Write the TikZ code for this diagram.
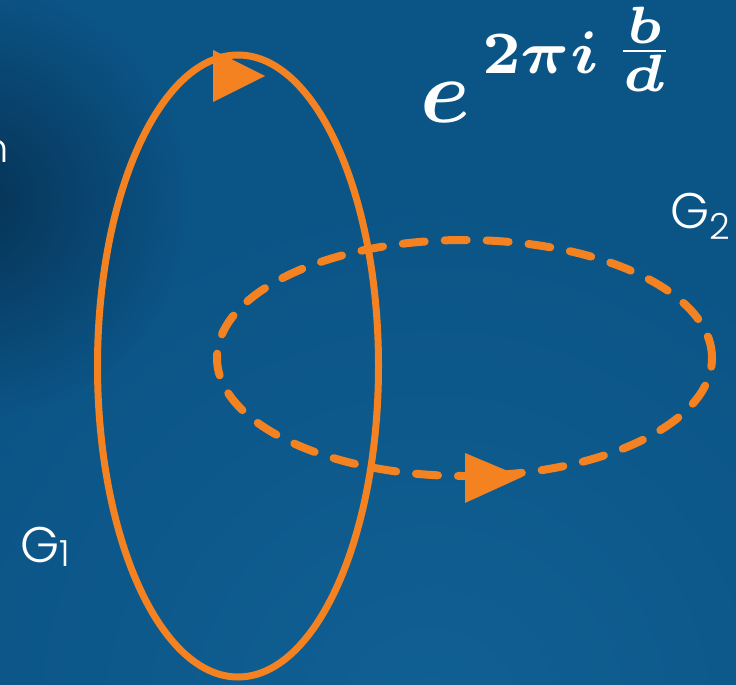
\documentclass[tikz,border=0pt]{standalone}
\usepackage{amsmath}
\usepackage{graphicx}
\usepackage{fontspec}
\newfontfamily\gfont{Poppins}[UprightFont={* Light}]
\definecolor{bg}{RGB}{11,84,134}
\definecolor{bgdark}{RGB}{6,50,84}
\definecolor{bglight}{RGB}{17,96,148}
\definecolor{loop}{RGB}{245,130,32}
\newsavebox{\expobox}
\newsavebox{\goneb}
\newsavebox{\gtwob}
\newsavebox{\cutb}
\tikzset{
  loopline/.style={draw=loop, line width=7pt},
  dashloop/.style={draw=loop, line width=8pt, line cap=round, dash pattern=on 22pt off 20pt},
  arrowtri/.style={fill=loop, draw=none},
  lbl/.style={text=white, inner sep=0pt},
}
\begin{document}
\sbox{\expobox}{\color{white}\scalebox{9}{\boldmath$e$}\hspace{12pt}\raisebox{49pt}{\scalebox{8.6}{\boldmath$\scriptstyle 2\pi i$}}\hspace{12pt}\raisebox{58pt}{\scalebox{10.5}{\boldmath$\scriptscriptstyle\frac{b}{d}$}}}%
\sbox{\goneb}{\color{white}\gfont\fontsize{50}{50}\selectfont G\fontsize{36}{36}\selectfont\raisebox{-4pt}{1}}%
\sbox{\gtwob}{\color{white}\gfont\fontsize{50}{50}\selectfont G\fontsize{36}{36}\selectfont\raisebox{-11pt}{2}}%
\sbox{\cutb}{\color{white}\gfont\fontsize{40}{40}\selectfont n}%
\begin{tikzpicture}[x=1pt,y=-1pt]
\useasboundingbox (0,0) rectangle (736,685);
\fill[bg] (0,0) rectangle (736,685);
\begin{scope}
\clip (0,0) rectangle (736,685);
\shade[inner color=bglight, outer color=bg] (430,720) circle[radius=520pt];
\shade[inner color=bgdark, outer color=bg] (-30,200) circle[radius=220pt];
\end{scope}
% solid loop G1
\draw[loopline] (238,366) ellipse[x radius=140.5pt, y radius=311pt];
% dashed loop G2
\draw[dashloop] (464.5,358) ellipse[x radius=247.5pt, y radius=118pt];
% arrowheads
\fill[arrowtri] (213,50) -- (265,76) -- (213,102) -- cycle;
\fill[arrowtri] (465,453) -- (522,477) -- (465,503) -- cycle;
% labels
\path (420,122) node[lbl, anchor=base west] (expo) {\usebox{\expobox}};
\path (20,562) node[lbl, anchor=base west] (g1) {\usebox{\goneb}};
\path (670,228) node[lbl, anchor=base west] (g2) {\usebox{\gtwob}};
\path (9,162) node[lbl, anchor=base east] (cut) {\usebox{\cutb}};
\end{tikzpicture}
\end{document}
